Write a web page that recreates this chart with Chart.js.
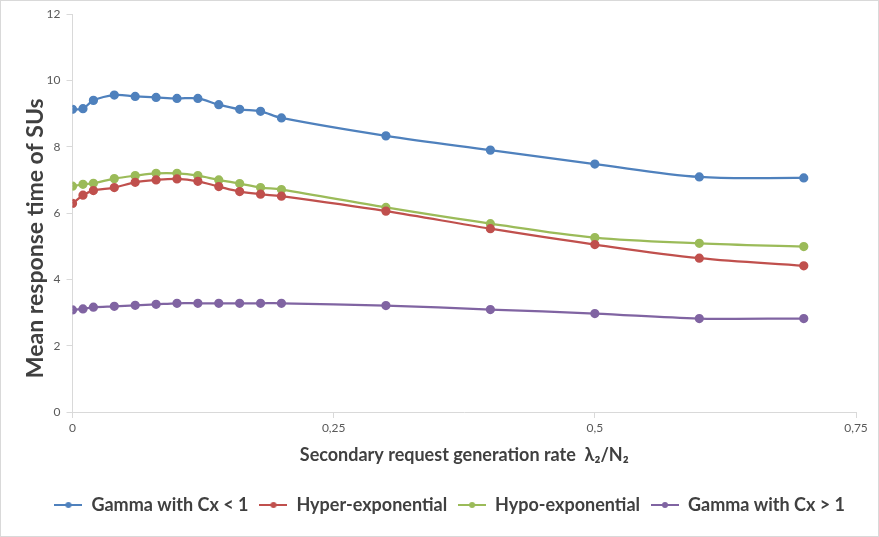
<!DOCTYPE html>
<html>
<head>
<meta charset="utf-8">
<script src="https://cdn.jsdelivr.net/npm/chart.js@4/dist/chart.umd.min.js"></script>
<style>
  body { margin: 0; background: #fff; }
  #wrap { width: 877px; height: 535px; border: 1px solid #d9d9d9; }
</style>
</head>
<body>
<div id="wrap"><canvas id="chart" width="877" height="535"></canvas></div>
<script>
// x values (secondary request generation rate)
const rates = [0, 0.01, 0.02, 0.04, 0.06, 0.08, 0.1, 0.12, 0.14, 0.16, 0.18, 0.2, 0.3, 0.4, 0.5, 0.6, 0.7];

const gammaLow = [9.13, 9.15, 9.40, 9.56, 9.52, 9.49, 9.46, 9.46, 9.27, 9.13, 9.07, 8.87, 8.33, 7.90, 7.48, 7.09, 7.06];
const hyperExp = [6.29, 6.54, 6.68, 6.77, 6.93, 7.00, 7.03, 6.96, 6.80, 6.65, 6.57, 6.51, 6.06, 5.53, 5.05, 4.64, 4.41];
const hypoExp  = [6.81, 6.87, 6.90, 7.04, 7.13, 7.20, 7.20, 7.13, 7.00, 6.89, 6.77, 6.71, 6.17, 5.68, 5.26, 5.09, 4.99];
const gammaHigh = [3.08, 3.11, 3.16, 3.19, 3.22, 3.25, 3.28, 3.28, 3.28, 3.28, 3.28, 3.28, 3.21, 3.09, 2.97, 2.82, 2.82];

const seriesNames = ['Gamma with Cx < 1', 'Hyper-exponential', 'Hypo-exponential', 'Gamma with Cx > 1'];
const seriesColors = ['#4F81BD', '#C0504D', '#9BBB59', '#8064A2'];

const axisColor = '#d9d9d9';
const textColor = '#595959';
const titleColor = '#404040';
const fontFamily = 'Lato, "Open Sans", sans-serif';

// small line+dot marker for the legend
function legendMarker(color) {
    const c = document.createElement('canvas');
    c.width = 28; c.height = 10;
    const ctx = c.getContext('2d');
    ctx.strokeStyle = color;
    ctx.lineWidth = 2;
    ctx.beginPath();
    ctx.moveTo(0, 5); ctx.lineTo(28, 5);
    ctx.stroke();
    ctx.fillStyle = color;
    ctx.beginPath();
    ctx.arc(14, 5, 3, 0, Math.PI * 2);
    ctx.fill();
    return c;
}

const allValues = [gammaLow, hyperExp, hypoExp, gammaHigh];

new Chart(document.getElementById('chart').getContext('2d'), {
    type: 'line',
    data: {
        datasets: allValues.map((vals, i) => ({
            label: seriesNames[i],
            data: rates.map((x, j) => ({ x: x, y: vals[j] })),
            borderColor: seriesColors[i],
            backgroundColor: seriesColors[i],
            borderWidth: 2.25,
            pointRadius: 3.5,
            pointHoverRadius: 3.5,
            tension: 0.35,
            fill: false
        }))
    },
    options: {
        responsive: false,
        animation: false,
        layout: { padding: { top: 12, right: 22, left: 3, bottom: 12 } },
        plugins: {
            tooltip: { enabled: false },
            legend: {
                position: 'bottom',
                align: 'end',
                labels: {
                    color: titleColor,
                    font: { family: fontFamily, size: 18, weight: 'bold' },
                    usePointStyle: true,
                    pointStyleWidth: 28,
                    padding: 11,
                    generateLabels: chart => chart.data.datasets.map((ds, i) => ({
                        text: ds.label,
                        pointStyle: legendMarker(seriesColors[i]),
                        fillStyle: seriesColors[i],
                        strokeStyle: seriesColors[i],
                        fontColor: titleColor,
                        lineWidth: 0,
                        datasetIndex: i,
                        hidden: false
                    }))
                }
            }
        },
        scales: {
            x: {
                type: 'linear',
                min: 0,
                max: 0.75,
                ticks: {
                    stepSize: 0.25,
                    color: textColor,
                    font: { family: fontFamily, size: 12 },
                    callback: v => String(v).replace('.', ',')
                },
                grid: { drawOnChartArea: false, color: axisColor, tickLength: 6 },
                border: { color: axisColor },
                title: {
                    display: true,
                    text: 'Secondary request generation rate  λ₂/N₂',
                    color: titleColor,
                    font: { family: fontFamily, size: 18, weight: 'bold' },
                    padding: { top: 6, bottom: 19 }
                }
            },
            y: {
                min: 0,
                max: 12,
                ticks: {
                    stepSize: 2,
                    color: textColor,
                    font: { family: fontFamily, size: 12 },
                    padding: 6
                },
                grid: { drawOnChartArea: false, color: axisColor, tickLength: 6 },
                border: { color: axisColor },
                title: {
                    display: true,
                    text: 'Mean response time of SUs\u00a0\u00a0\u00a0\u00a0\u00a0\u00a0\u00a0\u00a0\u00a0',
                    color: titleColor,
                    font: { family: fontFamily, size: 23, weight: 'bold' },
                    padding: { top: 18, bottom: -9 }
                }
            }
        }
    }
});
</script>
</body>
</html>
